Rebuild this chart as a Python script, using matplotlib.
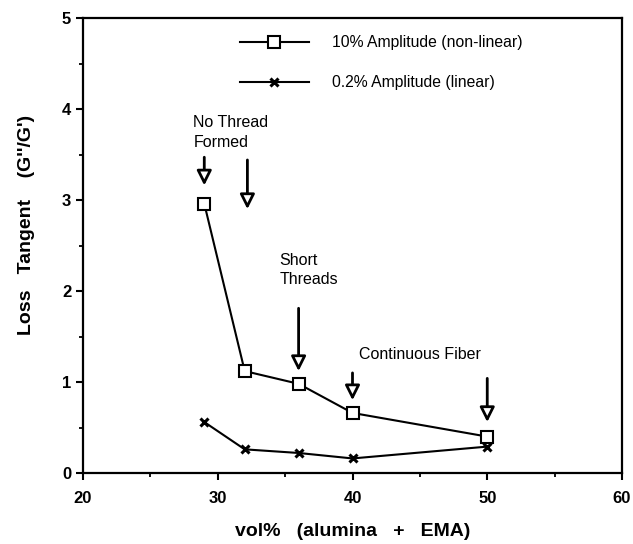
import matplotlib
matplotlib.use("Agg")
import matplotlib.pyplot as plt
from matplotlib.ticker import MultipleLocator

plt.rcParams['font.family'] = ['Liberation Sans', 'DejaVu Sans']

vol = [29, 32, 36, 40, 50]
tan_10pct = [2.96, 1.12, 0.98, 0.66, 0.40]
tan_02pct = [0.56, 0.26, 0.22, 0.16, 0.29]

fig = plt.figure(figsize=(6.33, 5.44), dpi=100)
ax = fig.add_axes([83/633, 71/544, 539/633, 455/544])

ax.plot(vol, tan_10pct, color='black', lw=1.5, marker='s', markersize=8.5,
        markerfacecolor='white', markeredgecolor='black', markeredgewidth=1.5,
        label='10% Amplitude (non-linear)', zorder=3)
ax.plot(vol, tan_02pct, color='black', lw=1.5, marker='x', markersize=6,
        markeredgewidth=2.2, label='0.2% Amplitude (linear)', zorder=3)

ax.set_xlim(20, 60)
ax.set_ylim(0, 5)
ax.xaxis.set_major_locator(MultipleLocator(10))
ax.xaxis.set_minor_locator(MultipleLocator(5))
ax.yaxis.set_major_locator(MultipleLocator(1))
ax.yaxis.set_minor_locator(MultipleLocator(0.5))
ax.tick_params(which='major', direction='out', length=5, width=1.5, labelsize=12)
ax.tick_params(axis='x', which='major', pad=8)
ax.tick_params(which='minor', direction='out', length=3, width=1.3)
for lab in ax.get_xticklabels() + ax.get_yticklabels():
    lab.set_fontweight('bold')
for s in ax.spines.values():
    s.set_linewidth(1.6)

ax.set_xlabel('vol%   (alumina   +   EMA)', fontsize=14, fontweight='bold')
ax.set_ylabel("Loss   Tangent    (G''/G')", fontsize=14, fontweight='bold')
ax.xaxis.set_label_coords(0.5, -50/455)
ax.yaxis.set_label_coords(-48/539, 0.545)

ax.legend(loc='upper left', bbox_to_anchor=(0.291, 0.962), frameon=False,
          fontsize=11.3, handlelength=4.4, handletextpad=1.45, labelspacing=1.6,
          borderaxespad=0, borderpad=0)

arrow_kw = dict(arrowstyle='-|>', mutation_scale=22, lw=2.0, fc='white', ec='black',
                shrinkA=0, shrinkB=0)
arrows = [(29, 3.47, 3.16), (32.2, 3.44, 2.90), (36, 1.81, 1.12),
          (40, 1.10, 0.80), (50, 1.04, 0.56)]
for x, y0, y1 in arrows:
    ax.annotate('', xy=(x, y1), xytext=(x, y0), arrowprops=arrow_kw)

ax.text(28.2, 3.93, 'No Thread\nFormed', fontsize=11.5, va='top', ha='left', linespacing=1.35)
ax.text(34.6, 2.42, 'Short\nThreads', fontsize=11.5, va='top', ha='left', linespacing=1.35)
ax.text(40.5, 1.30, 'Continuous Fiber', fontsize=11.5, va='center', ha='left')

fig.savefig('out.png', dpi=100)
